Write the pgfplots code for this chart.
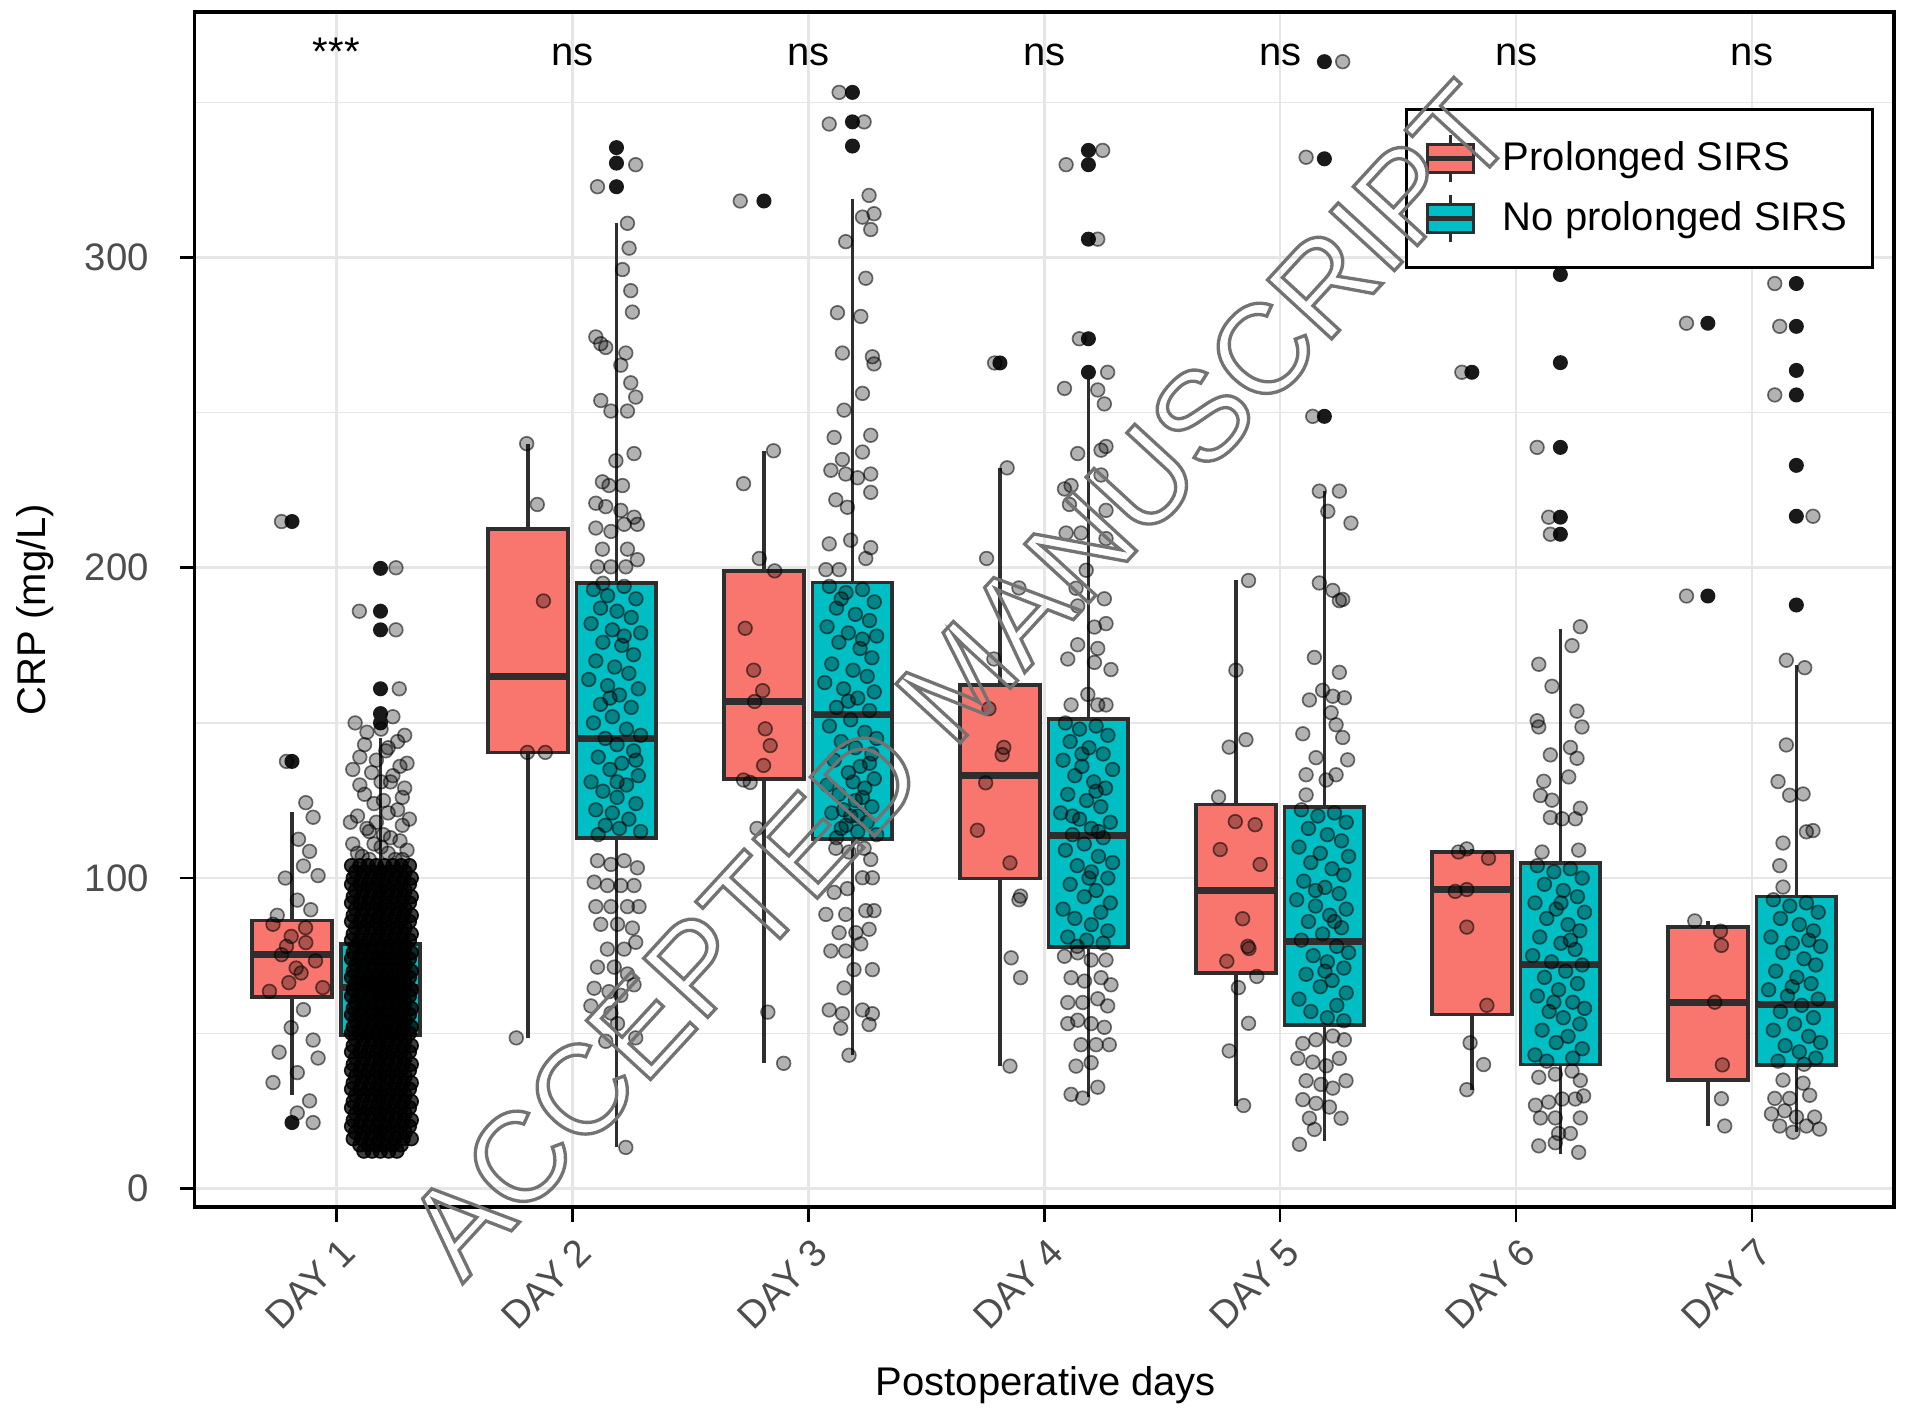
\documentclass[border=0pt]{standalone}
\usepackage{pgfplots}
\pgfplotsset{compat=1.18}
\usetikzlibrary{calc}
\usepackage{fontspec}
\setmainfont{Liberation Sans}

\definecolor{sirsred}{HTML}{F8766D}
\definecolor{sirsteal}{HTML}{00BFC4}
\definecolor{tickgray}{HTML}{4D4D4D}
\definecolor{gridgray}{HTML}{E6E6E6}
\definecolor{boxline}{HTML}{2E2E2E}

\newcommand\twelve{\fontsize{12}{14.4}\selectfont}
\newcommand\ticksize{\fontsize{11.5}{13.8}\selectfont}

\pgfplotsset{
  jitter/.style={only marks, forget plot, mark=*, mark size=2.05pt,
    mark options={fill=black, fill opacity=0.3, draw=black, draw opacity=0.55, line width=0.5pt}},
  jitterdense/.style={jitter,
    mark options={fill=black, fill opacity=0.75, draw=black, draw opacity=0.9, line width=0.5pt}},
  outlier/.style={only marks, forget plot, mark=*, mark size=2.05pt,
    mark options={fill=black!90, draw=black!90}},
}
% box left, centre, box right, colour, lower whisker, Q1, median, Q3, upper whisker
\newcommand\crpbox[9]{%
  \addplot[forget plot, draw=boxline, line width=1.1pt] coordinates {(#2,#5)(#2,#6)};
  \addplot[forget plot, draw=boxline, line width=1.1pt] coordinates {(#2,#8)(#2,#9)};
  \addplot[forget plot, draw=boxline, fill=#4, line width=1.1pt]
    coordinates {(#1,#6)(#3,#6)(#3,#8)(#1,#8)} --cycle;
  \addplot[forget plot, draw=boxline, line width=2.1pt] coordinates {(#1,#7)(#3,#7)};}

\begin{document}
\begin{tikzpicture}
\begin{axis}[
  name=ax, scale only axis, width=509.7pt, height=358.3pt,
  xmin=0.4, xmax=7.6, ymin=-5.9, ymax=379,
  xtick={1,2,3,4,5,6,7},
  xticklabels={DAY 1,DAY 2,DAY 3,DAY 4,DAY 5,DAY 6,DAY 7},
  ytick={0,100,200,300}, minor ytick={50,150,250,350},
  grid=both,
  major grid style={gridgray, line width=0.8pt},
  minor grid style={gridgray, line width=0.4pt},
  axis line style={black, line width=1.1pt},
  tick pos=left, tick align=outside,
  major tick length=4.5pt, minor tick length=0pt,
  tick style={black, line width=0.8pt},
  /pgf/number format/assume math mode=true,
  tick label style={font=\ticksize, text=tickgray},
  xticklabel style={xshift=0.8pt, yshift=0.6pt, rotate=45, anchor=north east},
  yticklabel style={xshift=-5.7pt, anchor=east},
  xlabel={Postoperative days}, ylabel={CRP (mg/L)},
  every axis x label/.style={at={(rel axis cs:0.501,0)}, yshift=-53.4pt, anchor=center, font=\twelve},
  every axis y label/.style={at={(rel axis cs:0,0.5)}, xshift=-48pt, rotate=90, anchor=center, font=\twelve},
  legend style={at={(0.9885,0.9198)}, anchor=north east, draw=black, line width=0.9pt,
    fill=white, font=\twelve, inner xsep=5.5pt, inner ysep=7.3pt, row sep=3pt,
    column sep=6pt, nodes={inner sep=2pt}},
  legend cell align=left,
]
\addlegendimage{legend image code/.code={
  \draw[boxline, line width=0.9pt] (7pt,-7pt) -- (7pt,7pt);
  \draw[boxline, line width=0.9pt, fill=sirsred] (0pt,-4.2pt) rectangle (14pt,4.2pt);
  \draw[boxline, line width=1.5pt] (0pt,0pt) -- (14pt,0pt);}}
\addlegendentry{Prolonged SIRS}
\addlegendimage{legend image code/.code={
  \draw[boxline, line width=0.9pt] (7pt,-7pt) -- (7pt,7pt);
  \draw[boxline, line width=0.9pt, fill=sirsteal] (0pt,-4.2pt) rectangle (14pt,4.2pt);
  \draw[boxline, line width=1.5pt] (0pt,0pt) -- (14pt,0pt);}}
\addlegendentry{No prolonged SIRS}

% boxes
\crpbox{0.64375}{0.8125}{0.98125}{sirsred}{30.2}{61.6}{75.3}{86.3}{121.2}
\crpbox{1.01875}{1.1875}{1.35625}{sirsteal}{11.8}{49.4}{64.7}{78.8}{145}
\crpbox{1.64375}{1.8125}{1.98125}{sirsred}{48.5}{140.5}{164.9}{212.4}{239.8}
\crpbox{2.01875}{2.1875}{2.35625}{sirsteal}{13.2}{113}{145}{195}{311}
\crpbox{2.64375}{2.8125}{2.98125}{sirsred}{40.3}{132}{156.9}{199}{237.7}
\crpbox{3.01875}{3.1875}{3.35625}{sirsteal}{42.9}{112.6}{152.6}{195.2}{318.9}
\crpbox{3.64375}{3.8125}{3.98125}{sirsred}{39.4}{99.9}{133}{162.2}{232.2}
\crpbox{4.01875}{4.1875}{4.35625}{sirsteal}{29.6}{77.7}{113.6}{151.2}{260.8}
\crpbox{4.64375}{4.8125}{4.98125}{sirsred}{26.7}{69.5}{96}{123.7}{195.9}
\crpbox{5.01875}{5.1875}{5.35625}{sirsteal}{15.4}{52.7}{79.7}{123}{224.7}
\crpbox{5.64375}{5.8125}{5.98125}{sirsred}{31.8}{56}{96.3}{108.4}{109.4}
\crpbox{6.01875}{6.1875}{6.35625}{sirsteal}{11.0}{39.9}{72.1}{104.8}{180.4}
\crpbox{6.64375}{6.8125}{6.98125}{sirsred}{20.1}{34.9}{60}{84.3}{86.2}
\crpbox{7.01875}{7.1875}{7.35625}{sirsteal}{18.1}{39.8}{59.2}{94.1}{168.6}

% outliers
\addplot[outlier] coordinates {
(0.8125,214.9)(0.8125,137.6)(0.8125,21.2)
(1.1875,199.8)(1.1875,186)(1.1875,180)(1.1875,161)(1.1875,153)(1.1875,150)
(2.1875,335.4)(2.1875,330.4)(2.1875,322.8)
(2.8125,318.2)
(3.1875,353.2)(3.1875,343.7)(3.1875,335.9)
(3.8125,266)
(4.1875,334.5)(4.1875,329.9)(4.1875,305.9)(4.1875,273.8)(4.1875,263)
(5.1875,363.1)(5.1875,331.8)(5.1875,248.8)
(5.8125,263)
(6.1875,294.5)(6.1875,266.1)(6.1875,238.8)(6.1875,216.3)(6.1875,210.8)
(6.8125,278.8)(6.8125,190.9)
(7.1875,291.6)(7.1875,277.8)(7.1875,263.6)(7.1875,255.7)(7.1875,233)(7.1875,216.6)(7.1875,188)
};

% prolonged SIRS, jittered
\addplot[jitter] coordinates {
(0.768,214.9)(0.789,137.6)(0.871,124.3)(0.902,119.6)(0.840,112.5)(0.887,108.6)(0.861,103.9)
(0.923,100.8)(0.784,100)(0.835,92.9)(0.892,89.8)(0.732,85.1)(0.809,81.2)(0.871,79.2)
(0.768,75.3)(0.912,73.3)(0.851,69.4)(0.799,66.3)(0.943,64.7)(0.717,63.5)(0.861,57.6)
(0.809,51.8)(0.902,47.8)(0.758,43.9)(0.923,42)(0.835,37.3)(0.732,34.1)(0.887,28.2)
(0.835,24.3)(0.902,21.2)(0.789,78)(0.870,84)(0.750,88)(0.830,71)
(1.807,240)(1.852,220.4)(1.878,189.3)(1.810,140.5)(1.886,140.5)(1.763,48.5)
(2.712,318.2)(2.853,237.7)(2.726,227.1)(2.793,203)(2.858,199)(2.733,180.5)(2.769,167)
(2.807,160.4)(2.773,156.9)(2.818,148.1)(2.839,142.7)(2.811,136.3)(2.726,131.6)(2.754,130.8)
(2.783,116)(2.829,56.8)(2.896,40.3)
(3.790,266)(3.843,232.2)(3.756,203)(3.893,193.5)(3.787,170.6)(3.766,154.6)(3.829,142.1)
(3.822,139.8)(3.752,130.7)(3.717,115.4)(3.855,104.9)(3.900,94.2)(3.893,93.0)(3.860,74.3)
(3.900,67.9)(3.855,39.4)
(4.866,195.9)(4.8125,167)(4.784,142.2)(4.855,144.6)(4.739,126.1)(4.810,118.2)(4.894,117.2)
(4.746,109.2)(4.915,104.4)(4.841,86.9)(4.863,78)(4.868,77.3)(4.774,73.2)(4.823,64.7)
(4.901,68.3)(4.866,53.2)(4.784,44.3)(4.845,26.7)
(5.770,263)(5.756,108.4)(5.791,109.4)(5.883,106.4)(5.742,95.7)(5.791,96.3)(5.791,84.2)
(5.876,59)(5.805,46.9)(5.862,39.9)(5.791,31.8)
(6.722,278.8)(6.722,190.9)(6.757,86.2)(6.866,82.9)(6.870,78.3)(6.842,60)(6.874,39.8)
(6.870,28.9)(6.884,20.1)
};

% no prolonged SIRS, day 1: sparse upper part
\addplot[jitter] coordinates {
(1.253,200)(1.098,186)(1.253,180)(1.267,161)(1.240,152)(1.130,147)(1.260,144)(1.210,141)
(1.100,139)(1.270,136)(1.150,134)(1.230,131)(1.290,129)(1.120,127)(1.200,125)(1.260,122)
(1.090,120)(1.170,118)(1.280,117)(1.140,115)(1.230,113)(1.070,111)(1.190,110)(1.300,109)
(1.110,107)(1.250,106)
(1.080,150)(1.190,148)(1.290,146)(1.120,143)(1.220,142)(1.170,138)(1.300,137)(1.070,135)
(1.240,133)(1.190,131)(1.100,130)(1.280,126)(1.160,124)(1.220,121)(1.060,118)(1.310,119)
(1.130,116)(1.200,114)(1.270,112)(1.160,111)(1.090,108)(1.220,108)(1.280,106)(1.140,106)
};
% no prolonged SIRS, day 1: dense core
\addplot[jitterdense] coordinates {
(1.065,104)(1.100,104)(1.135,104)(1.170,104)(1.205,104)(1.240,104)(1.275,104)(1.310,104)
(1.082,102)(1.117,102)(1.152,102)(1.187,102)(1.222,102)(1.257,102)(1.292,102)
(1.072,100)(1.108,100)(1.145,100)(1.180,100)(1.214,100)(1.249,100)(1.284,100)(1.318,100)
(1.065,98)(1.100,98)(1.135,98)(1.170,98)(1.205,98)(1.240,98)(1.275,98)(1.310,98)
(1.082,96)(1.117,96)(1.152,96)(1.187,96)(1.222,96)(1.257,96)(1.292,96)
(1.072,94)(1.108,94)(1.145,94)(1.180,94)(1.214,94)(1.249,94)(1.284,94)(1.318,94)
(1.065,92)(1.100,92)(1.135,92)(1.170,92)(1.205,92)(1.240,92)(1.275,92)(1.310,92)
(1.082,90)(1.117,90)(1.152,90)(1.187,90)(1.222,90)(1.257,90)(1.292,90)
(1.072,88)(1.108,88)(1.145,88)(1.180,88)(1.214,88)(1.249,88)(1.284,88)(1.318,88)
(1.065,86)(1.100,86)(1.135,86)(1.170,86)(1.205,86)(1.240,86)(1.275,86)(1.310,86)
(1.082,84)(1.117,84)(1.152,84)(1.187,84)(1.222,84)(1.257,84)(1.292,84)
(1.072,82)(1.108,82)(1.145,82)(1.180,82)(1.214,82)(1.249,82)(1.284,82)(1.318,82)
(1.065,80)(1.100,80)(1.135,80)(1.170,80)(1.205,80)(1.240,80)(1.275,80)(1.310,80)
(1.082,78)(1.117,78)(1.152,78)(1.187,78)(1.222,78)(1.257,78)(1.292,78)
(1.072,76)(1.108,76)(1.145,76)(1.180,76)(1.214,76)(1.249,76)(1.284,76)(1.318,76)
(1.065,74)(1.100,74)(1.135,74)(1.170,74)(1.205,74)(1.240,74)(1.275,74)(1.310,74)
(1.082,72)(1.117,72)(1.152,72)(1.187,72)(1.222,72)(1.257,72)(1.292,72)
(1.072,70)(1.108,70)(1.145,70)(1.180,70)(1.214,70)(1.249,70)(1.284,70)(1.318,70)
(1.065,68)(1.100,68)(1.135,68)(1.170,68)(1.205,68)(1.240,68)(1.275,68)(1.310,68)
(1.082,66)(1.117,66)(1.152,66)(1.187,66)(1.222,66)(1.257,66)(1.292,66)
(1.072,64)(1.108,64)(1.145,64)(1.180,64)(1.214,64)(1.249,64)(1.284,64)(1.318,64)
(1.065,62)(1.100,62)(1.135,62)(1.170,62)(1.205,62)(1.240,62)(1.275,62)(1.310,62)
(1.082,60)(1.117,60)(1.152,60)(1.187,60)(1.222,60)(1.257,60)(1.292,60)
(1.072,58)(1.108,58)(1.145,58)(1.180,58)(1.214,58)(1.249,58)(1.284,58)(1.318,58)
(1.065,56)(1.100,56)(1.135,56)(1.170,56)(1.205,56)(1.240,56)(1.275,56)(1.310,56)
(1.082,54)(1.117,54)(1.152,54)(1.187,54)(1.222,54)(1.257,54)(1.292,54)
(1.072,52)(1.108,52)(1.145,52)(1.180,52)(1.214,52)(1.249,52)(1.284,52)(1.318,52)
(1.065,50)(1.100,50)(1.135,50)(1.170,50)(1.205,50)(1.240,50)(1.275,50)(1.310,50)
(1.082,48)(1.117,48)(1.152,48)(1.187,48)(1.222,48)(1.257,48)(1.292,48)
(1.072,46)(1.108,46)(1.145,46)(1.180,46)(1.214,46)(1.249,46)(1.284,46)(1.318,46)
(1.065,44)(1.100,44)(1.135,44)(1.170,44)(1.205,44)(1.240,44)(1.275,44)(1.310,44)
(1.082,42)(1.117,42)(1.152,42)(1.187,42)(1.222,42)(1.257,42)(1.292,42)
(1.072,40)(1.108,40)(1.145,40)(1.180,40)(1.214,40)(1.249,40)(1.284,40)(1.318,40)
(1.065,38)(1.100,38)(1.135,38)(1.170,38)(1.205,38)(1.240,38)(1.275,38)(1.310,38)
(1.082,36)(1.117,36)(1.152,36)(1.187,36)(1.222,36)(1.257,36)(1.292,36)
(1.072,34)(1.108,34)(1.145,34)(1.180,34)(1.214,34)(1.249,34)(1.284,34)(1.318,34)
(1.065,32)(1.100,32)(1.135,32)(1.170,32)(1.205,32)(1.240,32)(1.275,32)(1.310,32)
(1.082,30)(1.117,30)(1.152,30)(1.187,30)(1.222,30)(1.257,30)(1.292,30)
(1.072,28)(1.108,28)(1.145,28)(1.180,28)(1.214,28)(1.249,28)(1.284,28)(1.318,28)
(1.065,26)(1.100,26)(1.135,26)(1.170,26)(1.205,26)(1.240,26)(1.275,26)(1.310,26)
(1.082,24)(1.117,24)(1.152,24)(1.187,24)(1.222,24)(1.257,24)(1.292,24)
(1.072,22)(1.108,22)(1.145,22)(1.180,22)(1.214,22)(1.249,22)(1.284,22)(1.318,22)
(1.065,20)(1.100,20)(1.135,20)(1.170,20)(1.205,20)(1.240,20)(1.275,20)(1.310,20)
(1.082,18)(1.117,18)(1.152,18)(1.187,18)(1.222,18)(1.257,18)(1.292,18)
(1.072,16)(1.108,16)(1.145,16)(1.180,16)(1.214,16)(1.249,16)(1.284,16)(1.318,16)
(1.100,14)(1.135,14)(1.170,14)(1.205,14)(1.240,14)(1.275,14)
(1.117,12)(1.152,12)(1.187,12)(1.222,12)(1.257,12)
};

% no prolonged SIRS, days 2 to 7
\addplot[jitter] coordinates {
(2.269,329.9)(2.107,322.8)(2.234,311)(2.241,303)(2.213,296.1)(2.248,289.3)(2.255,282.4)
(2.100,274.4)(2.121,272.2)(2.142,271)(2.227,269.2)(2.206,265.3)(2.248,259.6)(2.269,255)
(2.121,253.9)(2.234,250.5)(2.164,250.5)(2.262,236.8)(2.185,234.5)(2.128,227.7)(2.156,226.5)
(2.213,226.5)(2.100,220.8)(2.142,219.7)(2.206,218.5)(2.262,216.3)(2.276,214)(2.100,212.8)
(2.164,211.7)(2.220,214)(2.128,206)(2.234,206)(2.276,202.6)(2.107,200.3)(2.164,200.3)(2.227,200.3)
(2.09,193)(2.15,191)(2.22,194)(2.27,190)(2.12,187)(2.19,186)(2.25,184)(2.08,182)(2.17,180)
(2.29,179)(2.13,176)(2.21,175)(2.26,172)(2.10,170)(2.18,168)(2.24,166)(2.07,164)(2.15,162)
(2.28,161)(2.20,159)(2.12,156)(2.25,155)(2.17,152)(2.09,150)(2.23,148)(2.29,146)(2.14,145)
(2.19,143)(2.26,141)(2.11,139)(2.21,137)(2.16,135)(2.28,133)(2.08,131)(2.23,130)(2.13,128)
(2.19,126)(2.27,124)(2.10,122)(2.17,121)(2.24,119)(2.14,117)(2.20,116)(2.29,115)(2.11,114)
(2.16,158)(2.22,178)(2.13,195)(2.27,138)(2.19,131)
(2.107,105.6)(2.164,104.4)(2.220,105.6)(2.276,103.3)(2.093,98.7)(2.149,97.6)(2.206,97.6)
(2.262,97.6)(2.100,90.8)(2.164,90.8)(2.234,90.8)(2.283,90.8)(2.121,85.1)(2.192,85.1)
(2.255,83.9)(2.149,77.1)(2.220,77.1)(2.269,79.3)(2.107,71.3)(2.178,71.3)(2.234,69.1)
(2.156,63.4)(2.093,64.5)(2.262,65.6)(2.079,58.8)(2.164,56.5)(2.206,62.2)(2.142,47.4)
(2.269,48.5)(2.192,53.1)(2.227,13.2)
(3.131,353.2)(3.089,343)(3.237,343.7)(3.258,320)(3.230,313)(3.279,314.1)(3.265,309)
(3.159,305.1)(3.244,293.3)(3.124,282.2)(3.223,281)(3.145,269.2)(3.272,268)(3.279,265.7)
(3.230,256.2)(3.152,250.8)(3.110,242)(3.265,242.7)(3.145,234.9)(3.230,237.3)(3.096,231.4)
(3.159,230.2)(3.265,230.2)(3.209,229)(3.117,221.9)(3.166,219.5)(3.265,224.3)(3.089,207.7)
(3.180,208.9)(3.244,203)(3.265,206.5)(3.131,199.4)(3.075,199.4)
(3.09,194)(3.16,192)(3.23,193)(3.28,189)(3.12,187)(3.20,185)(3.26,183)(3.08,181)(3.17,179)
(3.29,178)(3.13,176)(3.22,174)(3.27,171)(3.10,169)(3.19,167)(3.25,165)(3.07,163)(3.15,161)
(3.28,160)(3.21,158)(3.12,155)(3.26,154)(3.18,151)(3.09,149)(3.24,147)(3.29,145)(3.14,144)
(3.20,142)(3.27,140)(3.11,138)(3.22,136)(3.17,134)(3.28,132)(3.08,130)(3.24,129)(3.13,127)
(3.20,125)(3.27,123)(3.10,121)(3.18,120)(3.25,118)(3.14,116)(3.21,115)(3.29,114)(3.12,113)
(3.17,157)(3.23,177)(3.14,190)(3.26,137)(3.19,131)(3.15,122)(3.23,126)(3.16,117)(3.21,120)
(3.117,109.6)(3.173,108.4)(3.237,109.6)(3.265,106)(3.110,95.4)(3.166,96.6)(3.230,100.1)
(3.272,100.1)(3.159,88.3)(3.075,88.3)(3.244,89.5)(3.279,89.5)(3.131,82.4)(3.202,82.4)
(3.258,83.5)(3.159,76.5)(3.096,76.5)(3.223,78.8)(3.272,70.5)(3.194,70.5)(3.152,64.6)
(3.089,57.5)(3.145,56.3)(3.230,57.5)(3.258,52.8)(3.272,56.3)(3.173,42.9)(3.138,51.6)
(4.093,329.9)(4.248,334.5)(4.227,305.9)(4.149,273.8)(4.269,263)(4.086,257.8)(4.227,257.3)
(4.255,252.8)(4.142,236.8)(4.241,237.9)(4.262,239.1)(4.241,229.9)(4.086,225.4)(4.114,226.5)
(4.107,220.4)(4.262,218.5)(4.093,211.2)(4.156,211.2)(4.262,209.4)(4.135,193.4)(4.178,199.2)
(4.142,187.7)(4.255,190)(4.213,180.9)(4.262,182)(4.142,175.2)(4.227,174)(4.100,170.6)
(4.213,169.5)(4.283,167.2)(4.185,159.2)(4.114,155.8)(4.227,155.8)(4.262,155.8)
(4.09,150)(4.15,148)(4.22,149)(4.27,146)(4.11,144)(4.19,142)(4.25,140)(4.08,138)(4.16,136)
(4.29,135)(4.13,133)(4.21,131)(4.26,129)(4.10,127)(4.18,125)(4.24,123)(4.07,121)(4.15,119)
(4.28,118)(4.20,116)(4.12,114)(4.25,113)(4.17,111)(4.09,109)(4.23,107)(4.29,105)(4.14,104)
(4.20,102)(4.27,100)(4.11,98)(4.22,96)(4.17,94)(4.28,92)(4.08,90)(4.24,89)(4.13,87)
(4.20,85)(4.27,83)(4.10,81)(4.18,80)(4.25,79)(4.14,78)(4.16,140)(4.22,128)(4.12,120)
(4.19,100)(4.23,115)
(4.086,74.8)(4.142,75.9)(4.199,73.6)(4.262,73.6)(4.114,67.9)(4.171,66.8)(4.241,67.9)
(4.283,65.6)(4.100,59.9)(4.163,59.9)(4.227,61.1)(4.269,58.8)(4.142,54.2)(4.199,53.1)
(4.255,51.9)(4.276,46.3)(4.100,53.1)(4.156,46.3)(4.220,46.3)(4.135,39.4)(4.199,40.5)
(4.114,30.3)(4.163,29.1)(4.227,32.6)
(5.265,363.1)(5.110,332.3)(5.138,248.8)(5.166,224.7)(5.251,224.7)(5.300,214.4)(5.202,218.2)
(5.166,195.1)(5.223,192.7)(5.265,189.8)(5.251,189.4)(5.145,171.1)(5.251,166.3)(5.124,157.4)
(5.180,160.5)(5.223,158.6)(5.272,158.1)(5.216,153.3)(5.237,149.4)(5.096,146.5)(5.265,145.3)
(5.152,138.8)(5.286,138.1)(5.110,133.3)(5.195,131.6)(5.237,133.3)(5.110,126.8)
(5.09,122)(5.16,120)(5.23,121)(5.28,118)(5.12,116)(5.20,114)(5.26,112)(5.08,110)(5.17,108)
(5.29,107)(5.13,105)(5.22,103)(5.27,101)(5.10,99)(5.19,97)(5.25,95)(5.07,93)(5.15,91)
(5.28,90)(5.21,88)(5.12,86)(5.26,84)(5.18,82)(5.09,80)(5.24,78)(5.29,76)(5.14,75)
(5.20,73)(5.27,71)(5.11,69)(5.22,67)(5.17,65)(5.28,63)(5.08,61)(5.24,59)(5.13,57)
(5.20,55)(5.27,54)(5.15,96)(5.23,86)(5.19,70)
(5.096,46.7)(5.152,47.9)(5.223,49.1)(5.272,47.9)(5.075,41.9)(5.138,40.7)(5.195,39.5)
(5.251,41.9)(5.110,34.7)(5.173,33.5)(5.223,32.3)(5.279,34.7)(5.096,28.6)(5.152,27.4)
(5.209,26.2)(5.124,22.6)(5.258,22.6)(5.145,19)(5.082,14.2)
(6.089,238.8)(6.138,216.3)(6.145,210.8)(6.272,181)(6.237,174.9)(6.096,168.9)(6.152,161.8)
(6.258,153.8)(6.279,148.7)(6.089,150.7)(6.096,148.7)(6.230,142.1)(6.145,139.7)(6.258,138.6)
(6.117,131.2)(6.223,132.6)(6.103,126.6)(6.152,125.1)(6.272,122.5)(6.145,119.5)(6.195,119.1)
(6.251,119.1)(6.110,108.4)(6.265,109)
(6.09,104)(6.16,102)(6.23,103)(6.28,100)(6.12,98)(6.20,96)(6.26,94)(6.08,92)(6.17,90)
(6.29,89)(6.13,87)(6.22,85)(6.27,83)(6.10,81)(6.19,79)(6.25,77)(6.07,75)(6.15,73)
(6.28,72)(6.21,70)(6.12,68)(6.26,66)(6.18,64)(6.09,62)(6.24,60)(6.29,58)(6.14,57)
(6.20,55)(6.27,53)(6.11,51)(6.22,49)(6.17,47)(6.28,45)(6.08,43)(6.24,42)(6.13,41)
(6.16,60)(6.23,80)(6.19,92)
(6.096,35.8)(6.166,36.8)(6.237,37.8)(6.272,34.8)(6.082,26.8)(6.138,27.8)(6.195,28.8)
(6.251,28.8)(6.286,29.8)(6.103,22.7)(6.166,22.7)(6.272,22.7)(6.180,17.7)(6.230,17.7)
(6.096,13.7)(6.265,11.6)(6.166,14.7)
(7.096,291.6)(7.117,277.8)(7.096,255.7)(7.258,216.6)(7.145,170.2)(7.223,167.8)(7.145,142.9)
(7.110,131.1)(7.216,127.1)(7.159,126.7)(7.230,114.9)(7.258,115.3)(7.131,111.3)(7.117,104)
(7.131,97.1)
(7.09,93)(7.16,91)(7.23,92)(7.28,89)(7.12,87)(7.20,85)(7.26,83)(7.08,81)(7.17,79)
(7.29,78)(7.13,76)(7.22,74)(7.27,72)(7.10,70)(7.19,68)(7.25,66)(7.07,64)(7.15,62)
(7.28,61)(7.21,59)(7.12,57)(7.26,55)(7.18,53)(7.09,51)(7.24,49)(7.29,47)(7.14,46)
(7.20,44)(7.27,42)(7.11,41)(7.22,40)(7.17,65)(7.24,80)
(7.131,34.9)(7.216,33.9)(7.096,29)(7.159,29)(7.244,30)(7.138,25)(7.082,24)(7.188,23)
(7.265,23)(7.117,20.1)(7.173,18.1)(7.230,20.1)(7.286,19.1)
};

% significance labels
\node[anchor=base, font=\twelve] at (axis cs:1,362) {***};
\node[anchor=base, font=\twelve] at (axis cs:2,362) {ns};
\node[anchor=base, font=\twelve] at (axis cs:3,362) {ns};
\node[anchor=base, font=\twelve] at (axis cs:4,362) {ns};
\node[anchor=base, font=\twelve] at (axis cs:5,362) {ns};
\node[anchor=base, font=\twelve] at (axis cs:6,362) {ns};
\node[anchor=base, font=\twelve] at (axis cs:7,362) {ns};

\coordinate (wm) at (axis cs:3.64,164);
\end{axis}

% watermark, outlined text
\node[rotate=47.4, text=gray!90!black, font=\fontsize{38}{38}\selectfont] at (wm)
  {\special{pdf:literal direct 1 Tr 1 w}ACCEPTED MANUSCRIPT\special{pdf:literal direct 0 Tr}};

\pgfresetboundingbox
\path[use as bounding box] ($(ax.south west)+(-58.4pt,-61.4pt)$) rectangle ($(ax.north east)+(4pt,3.7pt)$);
\end{tikzpicture}
\end{document}
